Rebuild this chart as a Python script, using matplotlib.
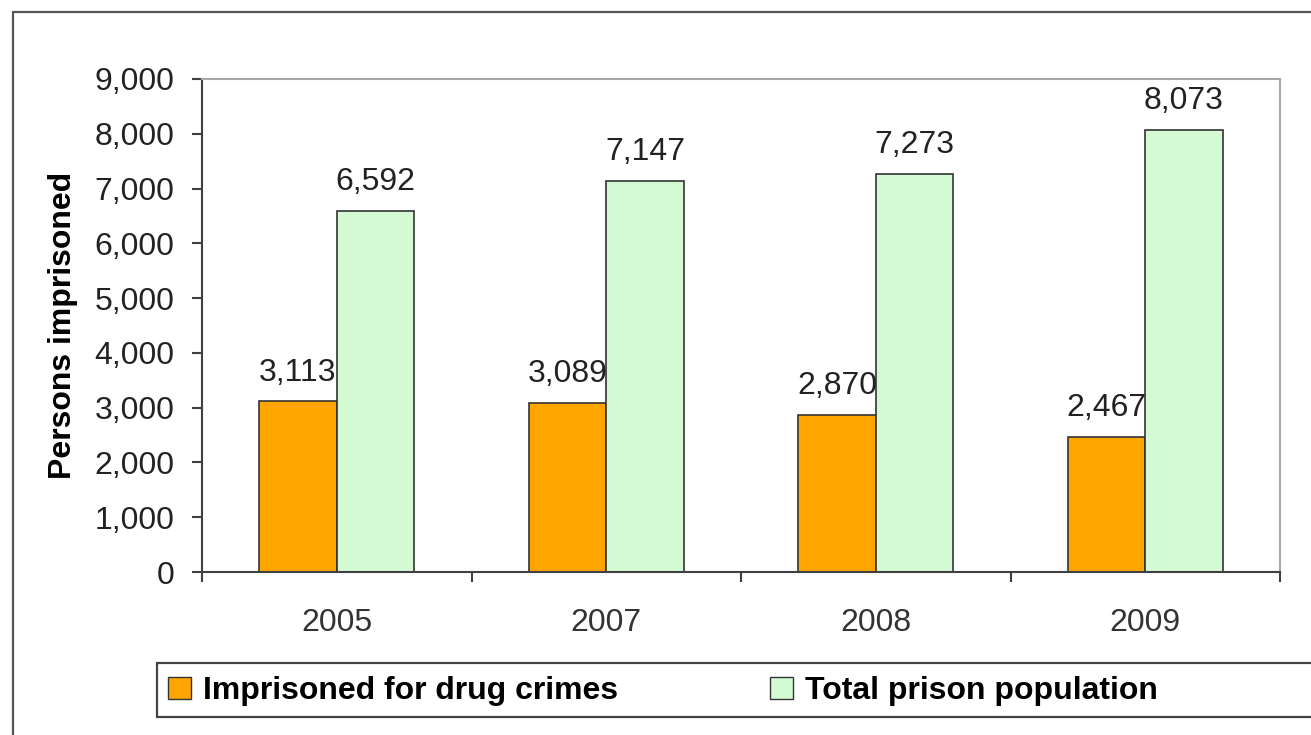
import matplotlib
matplotlib.use("Agg")
from matplotlib import pyplot as plt
from matplotlib.patches import Rectangle, Patch
from matplotlib.ticker import FuncFormatter, FixedLocator
import numpy as np

plt.rcParams['font.family'] = ['Liberation Sans', 'DejaVu Sans']

years = ['2005', '2007', '2008', '2009']
drug_crimes = [3113, 3089, 2870, 2467]
total_prison = [6592, 7147, 7273, 8073]
series_labels = ['Imprisoned for drug crimes', 'Total prison population']

W, H = 1311, 735
fs = 23
fig = plt.figure(figsize=(W / 100, H / 100), dpi=100)

# outer frame (runs past the right and bottom edges, like the cropped source)
fig.patches.append(Rectangle((13 / W, -0.1), 1.2, 1 - 12 / H + 0.1,
                             transform=fig.transFigure, fill=False,
                             edgecolor='#555555', linewidth=1.6))

ax = fig.add_axes([202 / W, 1 - 572 / H, (1280 - 202) / W, (572 - 79) / H])

x = np.arange(len(years))
bw = 0.288
orange = '#FFA500'
green = '#D4FAD4'
edge = '#333333'

b1 = ax.bar(x - bw / 2, drug_crimes, bw, color=orange, edgecolor=edge, linewidth=1.2)
b2 = ax.bar(x + bw / 2, total_prison, bw, color=green, edgecolor=edge, linewidth=1.2)

for bars, vals in ((b1, drug_crimes), (b2, total_prison)):
    for rect, v in zip(bars, vals):
        ax.annotate(f'{v:,}', (rect.get_x() + rect.get_width() / 2, v),
                    xytext=(0, 10), textcoords='offset points',
                    ha='center', va='bottom', fontsize=fs, color='#222222')

ax.set_xlim(-0.5, len(years) - 0.5)
ax.set_ylim(0, 9000)
ax.set_yticks(np.arange(0, 9001, 1000))
ax.yaxis.set_major_formatter(FuncFormatter(lambda v, p: f'{int(v):,}'))
ax.set_xticks(x)
ax.set_xticklabels(years)
ax.xaxis.set_minor_locator(FixedLocator(np.arange(-0.5, len(years), 1)))

ax.tick_params(axis='y', length=7, width=1.5, color='#404040', pad=13,
               labelsize=fs, labelcolor='#222222')
ax.tick_params(axis='x', which='major', length=0, pad=26, labelsize=fs,
               labelcolor='#333333')
ax.tick_params(axis='x', which='minor', length=7, width=1.5, color='#404040')

for side in ('left', 'bottom'):
    ax.spines[side].set_color('#404040')
    ax.spines[side].set_linewidth(1.5)
for side in ('top', 'right'):
    ax.spines[side].set_color('#A8A8A8')
    ax.spines[side].set_linewidth(1.5)

ax.set_ylabel('Persons imprisoned', fontsize=fs, fontweight='bold', labelpad=12)

# legend box
fig.patches.append(Rectangle((157 / W, 1 - 717 / H), 1.2, (717 - 663) / H,
                             transform=fig.transFigure, facecolor='white',
                             edgecolor='#444444', linewidth=1.6))
handles = [Patch(facecolor=orange, edgecolor=edge, linewidth=1.0),
           Patch(facecolor=green, edgecolor=edge, linewidth=1.0)]
fig.legend(handles, series_labels, ncol=2, frameon=False, loc='center left',
           bbox_to_anchor=(168 / W, 1 - 691 / H),
           prop={'size': fs, 'weight': 'bold'},
           handlelength=0.72, handleheight=0.7, handletextpad=0.38,
           columnspacing=4.75, borderpad=0, borderaxespad=0)

fig.savefig('out.png', dpi=100)
